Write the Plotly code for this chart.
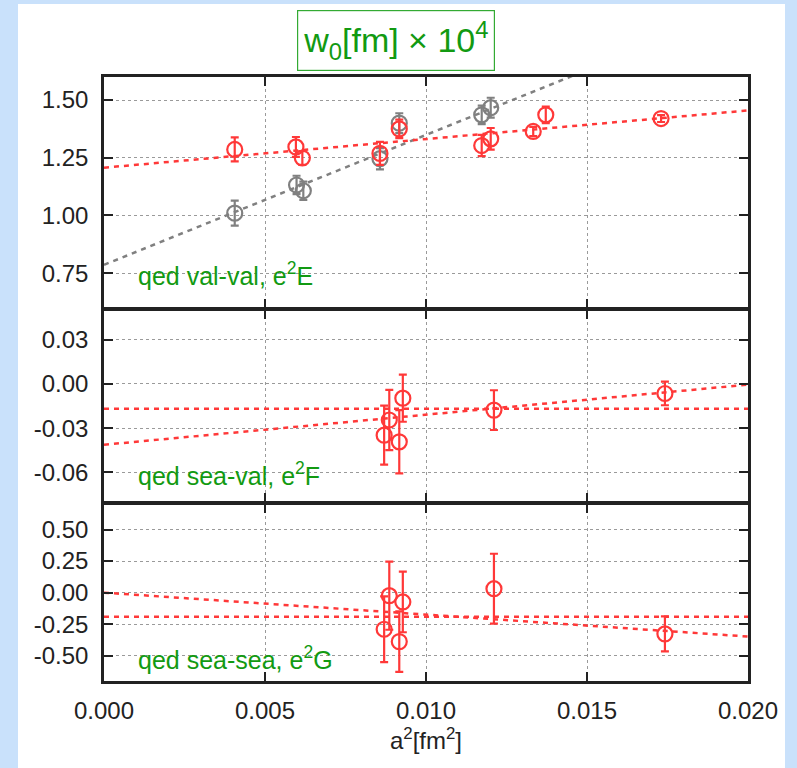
import numpy as np
import plotly.graph_objects as go
from plotly.subplots import make_subplots

# ---------------- data ----------------
# panel E (val-val)
xE_gray = [0.00406, 0.00598, 0.00619, 0.00857, 0.00917, 0.01173, 0.01201]
E_gray = [1.010, 1.132, 1.107, 1.246, 1.400, 1.436, 1.467]
E_gray_err = [0.054, 0.040, 0.040, 0.046, 0.043, 0.040, 0.043]

xE_red = [0.00406, 0.00596, 0.00616, 0.00857, 0.00917, 0.01173, 0.01201, 0.01333, 0.01372, 0.0173]
E_red = [1.286, 1.297, 1.249, 1.269, 1.375, 1.303, 1.332, 1.364, 1.436, 1.420]
E_red_err = [0.052, 0.043, 0.030, 0.050, 0.040, 0.046, 0.047, 0.020, 0.036, 0.015]

# panel F (sea-val)
xF = [0.0087, 0.00886, 0.00917, 0.00928, 0.01211, 0.01742]
F = [-0.0348, -0.0245, -0.0393, -0.0097, -0.0178, -0.0065]
F_err = [0.020, 0.0205, 0.0215, 0.016, 0.0135, 0.008]

# panel G (sea-sea)
xG = [0.0087, 0.00886, 0.00917, 0.00928, 0.01211, 0.01742]
G = [-0.290, -0.024, -0.388, -0.074, 0.031, -0.327]
G_err = [0.26, 0.27, 0.24, 0.24, 0.277, 0.139]

# fit parameters (intercept, slope)
fitE_gray = (0.786, 56.3)
fitE_red = (1.207, 12.4)
fitF_const = (-0.0168, 0.0)
fitF_lin = (-0.0413, 2.04)
fitG_const = (-0.191, 0.0)
fitG_lin = (0.0, -17.4)

x_ticks = [0.0, 0.005, 0.010, 0.015, 0.020]
x_ticklabels = ["0.000", "0.005", "0.010", "0.015", "0.020"]
yE_ticks = [0.75, 1.00, 1.25, 1.50]
yE_labels = ["0.75", "1.00", "1.25", "1.50"]
yF_ticks = [-0.06, -0.03, 0.0, 0.03]
yF_labels = ["-0.06", "-0.03", "0.00", "0.03"]
yG_ticks = [-0.5, -0.25, 0.0, 0.25, 0.5]
yG_labels = ["-0.50", "-0.25", "0.00", "0.25", "0.50"]

panel_labels = ["qed val-val, e<sup>2</sup>E",
                "qed sea-val, e<sup>2</sup>F",
                "qed sea-sea, e<sup>2</sup>G"]

# ---------------- style ----------------
RED = "#ff3838"
GRAY = "#808080"
GREEN = "#129a12"
FONT = "Liberation Sans"
W, H = 797, 768
ML, MR, MT, MB = 104, 49, 77, 87
LW = 2.5

fig = make_subplots(rows=3, cols=1, shared_xaxes=True, vertical_spacing=0,
                    row_heights=[232, 194, 178])

xfit = np.array([0.0, 0.02])


def add_fit(params, color, row):
    a, b = params
    fig.add_trace(go.Scatter(x=xfit, y=a + b * xfit, mode="lines",
                             line=dict(color=color, width=2.5, dash="5px,5px"),
                             hoverinfo="skip", showlegend=False), row=row, col=1)


def add_pts(x, y, e, color, row):
    fig.add_trace(go.Scatter(x=x, y=y, mode="markers",
                             marker=dict(symbol="circle-open", size=15,
                                         color=color, line=dict(width=2.2, color=color)),
                             error_y=dict(type="data", array=e, color=color,
                                          thickness=2.2, width=4),
                             showlegend=False, cliponaxis=False), row=row, col=1)


add_fit(fitE_gray, GRAY, 1)
add_fit(fitE_red, RED, 1)
add_pts(xE_gray, E_gray, E_gray_err, GRAY, 1)
add_pts(xE_red, E_red, E_red_err, RED, 1)

add_fit(fitF_const, RED, 2)
add_fit(fitF_lin, RED, 2)
add_pts(xF, F, F_err, RED, 2)

add_fit(fitG_const, RED, 3)
add_fit(fitG_lin, RED, 3)
add_pts(xG, G, G_err, RED, 3)

axis_common = dict(showline=True, linecolor="#222222", linewidth=LW, mirror="allticks",
                   ticks="inside", ticklen=9, tickwidth=1.5, tickcolor="#222222",
                   showgrid=True, gridcolor="#9a9a9a", griddash="dot", gridwidth=1,
                   zeroline=False, tickfont=dict(family=FONT, size=24, color="#222222"))

for r in (1, 2, 3):
    fig.update_xaxes(range=[0, 0.02], tickvals=x_ticks, ticktext=x_ticklabels,
                     showticklabels=(r == 3), row=r, col=1, **axis_common)

# panel domains: leave a gap of one line width so neighbouring frame lines coincide
ph = H - MT - MB
sep1, sep2 = 309, 503
d1 = [(H - MB - (sep1 - LW / 2)) / ph, 1.0]
d2 = [(H - MB - (sep2 - LW / 2)) / ph, (H - MB - (sep1 + LW / 2)) / ph]
d3 = [0.0, (H - MB - (sep2 + LW / 2)) / ph]

fig.update_yaxes(range=[0.6, 1.6], tickvals=yE_ticks, ticktext=yE_labels, domain=d1,
                 row=1, col=1, **axis_common)
fig.update_yaxes(range=[-0.08, 0.05], tickvals=yF_ticks, ticktext=yF_labels, domain=d2,
                 row=2, col=1, **axis_common)
fig.update_yaxes(range=[-0.7, 0.7], tickvals=yG_ticks, ticktext=yG_labels, domain=d3,
                 row=3, col=1, **axis_common)
fig.update_yaxes(ticklabelstandoff=8)
fig.update_xaxes(ticklabelstandoff=6)

fig.update_xaxes(title=dict(text="a<sup>2</sup>[fm<sup>2</sup>]",
                            font=dict(family=FONT, size=24, color="#222222"), standoff=8),
                 row=3, col=1)

# panel labels
lab_y = [0.07, 0.052, 0.03]
for r, (txt, yy) in enumerate(zip(panel_labels, lab_y), start=1):
    sfx = "" if r == 1 else str(r)
    fig.add_annotation(text=txt, xref=f"x{sfx} domain", x=0.05,
                       yref=f"y{sfx} domain", y=yy, xanchor="left", yanchor="bottom",
                       showarrow=False, font=dict(family=FONT, size=25, color=GREEN))

# title box
fig.add_annotation(text="w<sub>0</sub>[fm] × 10<sup>4</sup>", xref="paper", yref="paper",
                   x=(396 - ML) / (W - ML - MR), y=(H - MB - 41) / ph,
                   xanchor="center", yanchor="middle", showarrow=False,
                   font=dict(family=FONT, size=34, color=GREEN),
                   bordercolor="#33aa33", borderwidth=1.2, borderpad=5, bgcolor="white")

# white panel over a light blue page
pw = W - ML - MR
fig.add_shape(type="rect", xref="paper", yref="paper", layer="below",
              x0=(18 - ML) / pw, x1=(785 - ML) / pw,
              y0=(H - MB - 768) / ph, y1=(H - MB - 4) / ph,
              fillcolor="white", line=dict(width=0))

fig.update_layout(width=W, height=H, margin=dict(l=ML, r=MR, t=MT, b=MB),
                  paper_bgcolor="#c9e1fb", plot_bgcolor="white",
                  font=dict(family=FONT), showlegend=False)

fig.write_html("out.html")
